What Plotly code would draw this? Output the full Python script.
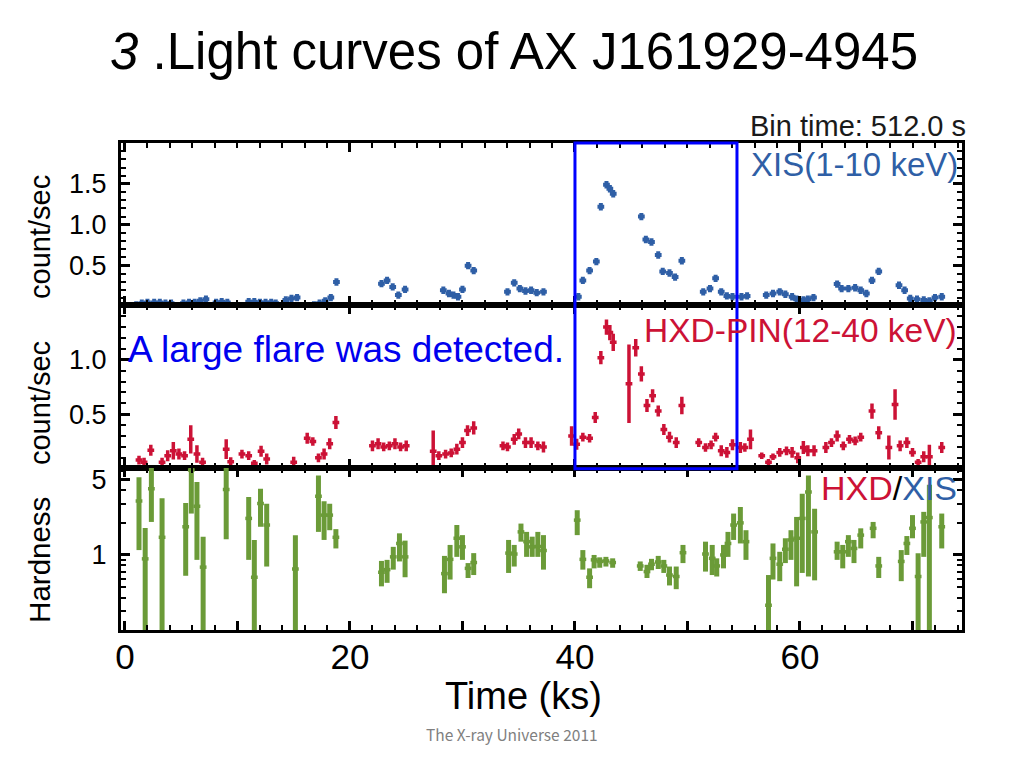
import plotly.graph_objects as go
from plotly.subplots import make_subplots

# ---------------- data ----------------
xis_t = [1.0, 1.5, 2.0, 2.6, 3.1, 3.6, 4.1,
         5.2, 5.7, 6.2, 6.7, 7.2,
         8.1, 8.6, 9.1,
         11.0, 11.5, 12.0, 12.5, 13.0, 13.4,
         14.3, 14.8, 15.3,
         16.8, 17.3, 17.8, 18.3, 18.8,
         22.8, 23.3, 23.8, 24.3, 24.9,
         28.3, 28.8, 29.2, 29.6, 30.0, 30.5, 31.0,
         34.0, 34.6, 35.1, 35.6, 36.1, 36.6, 37.2,
         40.3, 40.7, 41.3, 41.9, 42.3, 42.8, 43.1, 43.4,
         45.9, 46.3, 46.8, 47.4, 47.8, 48.4, 48.9, 49.5,
         51.4, 52.0, 52.5, 53.0, 53.5, 54.0, 54.8, 55.3,
         57.0, 57.6, 58.2, 58.7, 59.3, 59.7, 60.3, 60.7, 61.2,
         63.3, 63.7, 64.3, 64.9, 65.4, 65.9, 66.4, 67.0,
         68.8, 69.3, 69.8, 70.4, 71.0, 71.5, 72.0, 72.6]
xis_r = [0.02, 0.04, 0.05, 0.05, 0.05, 0.04, 0.04,
         0.04, 0.05, 0.05, 0.07, 0.09,
         0.05, 0.06, 0.05,
         0.06, 0.06, 0.05, 0.05, 0.05, 0.04,
         0.08, 0.10, 0.11,
         0.02, 0.04, 0.07, 0.11, 0.30,
         0.28, 0.32, 0.24, 0.14, 0.21,
         0.20, 0.16, 0.14, 0.12, 0.21, 0.50, 0.44,
         0.18, 0.29, 0.22, 0.19, 0.20, 0.17, 0.18,
         0.12, 0.32, 0.44, 0.55, 1.22, 1.49, 1.44, 1.38,
         1.10, 0.82, 0.79, 0.63, 0.43, 0.41, 0.36, 0.56,
         0.18, 0.22, 0.345, 0.18, 0.13, 0.12, 0.12, 0.13,
         0.14, 0.16, 0.18, 0.15, 0.12, 0.09, 0.08, 0.09, 0.11,
         0.275, 0.22, 0.22, 0.23, 0.20, 0.16, 0.32, 0.43,
         0.26, 0.20, 0.10, 0.09, 0.08, 0.07, 0.11, 0.12]
xis_e = 0.045

hxd_t = [1.25, 1.7, 2.3, 3.3, 3.8, 4.3, 4.8, 5.3, 5.85, 6.4, 6.9,
         9.0, 9.4, 10.4, 11.0, 11.5, 12.1, 12.6,
         15.0, 16.2, 16.7, 17.2, 17.7, 18.2, 18.75,
         22.0, 22.5, 23.0, 23.5, 24.0, 24.5, 25.0,
         27.4, 27.9, 28.5, 29.0, 29.5, 30.0, 30.45, 31.0,
         33.6, 34.0, 34.6, 35.0, 35.6, 36.1, 36.7, 37.2,
         39.7, 40.15, 40.7, 41.3, 41.8, 42.3, 42.8, 43.1, 43.4,
         44.8, 45.4, 45.9, 46.4, 46.9, 47.4, 47.9, 48.4, 49.0, 49.5,
         51.0, 51.6, 52.1, 52.5, 53.0, 53.5, 54.0, 54.7, 55.1, 55.6,
         56.6, 57.2, 57.6, 58.2, 58.8, 59.3, 59.8, 60.3, 60.7, 61.25,
         62.3, 62.8, 63.3, 63.85, 64.4, 64.9, 65.4, 66.4, 67.0,
         67.9, 68.45, 68.9, 69.5, 70.0, 70.5, 71.0, 71.5, 72.6]
hxd_r = [0.08, 0.06, 0.17, 0.06, 0.12, 0.165, 0.135, 0.12, 0.27, 0.135, 0.06,
         0.18, 0.065, 0.135, 0.12, 0.05, 0.16, 0.09,
         0.06, 0.28, 0.25, 0.10, 0.135, 0.23, 0.425,
         0.21, 0.23, 0.20, 0.21, 0.23, 0.20, 0.21,
         0.16, 0.12, 0.135, 0.145, 0.18, 0.24, 0.35, 0.375,
         0.21, 0.20, 0.27, 0.32, 0.24, 0.24, 0.21, 0.20,
         0.30, 0.225, 0.29, 0.28, 0.47, 1.02, 1.30, 1.25, 1.16,
         0.78, 1.11, 0.87, 0.58, 0.67, 0.53, 0.36, 0.29, 0.24, 0.58,
         0.24, 0.195, 0.22, 0.29, 0.165, 0.15, 0.22, 0.195, 0.195, 0.27,
         0.12, 0.06, 0.11, 0.15, 0.165, 0.15, 0.10, 0.195, 0.165, 0.165,
         0.195, 0.24, 0.30, 0.21, 0.27, 0.255, 0.29, 0.53, 0.33,
         0.195, 0.59, 0.21, 0.24, 0.15, 0.06, 0.11, 0.11, 0.195]
hxd_e = [0.04, 0.04, 0.05, 0.04, 0.05, 0.08, 0.05, 0.04, 0.13, 0.08, 0.04,
         0.09, 0.04, 0.04, 0.04, 0.03, 0.05, 0.05,
         0.05, 0.05, 0.04, 0.04, 0.05, 0.05, 0.06,
         0.05, 0.05, 0.04, 0.04, 0.05, 0.04, 0.05,
         0.19, 0.04, 0.04, 0.04, 0.05, 0.05, 0.05, 0.06,
         0.04, 0.04, 0.05, 0.05, 0.05, 0.05, 0.04, 0.05,
         0.09, 0.05, 0.04, 0.04, 0.05, 0.06, 0.07, 0.07, 0.08,
         0.36, 0.08, 0.07, 0.06, 0.06, 0.05, 0.05, 0.05, 0.05, 0.08,
         0.04, 0.04, 0.04, 0.04, 0.05, 0.05, 0.05, 0.05, 0.04, 0.09,
         0.03, 0.03, 0.03, 0.04, 0.04, 0.05, 0.05, 0.06, 0.05, 0.05,
         0.05, 0.04, 0.05, 0.04, 0.04, 0.04, 0.04, 0.07, 0.06,
         0.11, 0.14, 0.05, 0.05, 0.04, 0.03, 0.05, 0.11, 0.05]

hr_t = [1.25, 1.8, 2.35, 3.3, 5.4, 5.9, 6.4, 6.95, 9.0, 11.0, 11.5, 12.05, 12.6,
        15.15, 17.2, 17.7, 18.2, 18.75,
        22.8, 23.3, 23.85, 24.4, 24.9,
        28.4, 28.9, 29.5, 30.0, 30.5, 31.0,
        34.1, 34.6, 35.2, 35.7, 36.2, 36.7, 37.2,
        40.2, 40.7, 41.3, 41.7, 42.2, 42.75, 43.35,
        45.8, 46.4, 46.8, 47.4, 47.9, 48.4, 49.0, 49.6,
        51.6, 52.2, 52.6, 53.2, 53.6, 54.1, 54.7, 55.2,
        57.2, 57.6, 58.2, 58.7, 59.2, 59.7, 60.2, 60.75, 61.3,
        63.3, 63.8, 64.3, 64.8, 65.4, 66.5, 67.0,
        69.0, 69.5, 70.0, 70.5, 71.0, 71.5, 72.6]
hr_v = [3.18, 0.92, 4.14, 1.46, 1.83, 6.2, 2.84, 0.77, 4.06, 2.19, 0.62, 3.01, 1.90,
        0.74, 3.52, 2.35, 2.35, 1.46,
        0.69, 0.73, 0.96, 1.28, 0.96,
        0.67, 0.91, 1.43, 1.19, 0.75, 0.85,
        1.04, 1.02, 1.64, 1.33, 1.19, 1.20, 1.10,
        2.11, 0.91, 0.62, 0.90, 0.87, 0.88, 0.85,
        0.79, 0.70, 0.82, 0.86, 0.79, 0.65, 0.63, 1.05,
        1.02, 0.93, 0.79, 1.00, 1.28, 1.90, 1.99, 1.33,
        0.34, 0.93, 0.82, 1.13, 1.38, 1.43, 2.19, 3.85, 1.64,
        1.07, 1.07, 1.33, 1.15, 1.53, 1.77, 0.79,
        0.87, 1.28, 1.77, 0.63, 2.03, 2.23, 1.83]
hr_hi = [5.3, 1.78, 6.6, 3.37, 3.05, 7.5, 4.77, 1.48, 7.5, 3.46, 1.38, 4.14, 3.0,
         1.53, 5.5, 3.16, 3.0, 1.74,
         0.88, 0.90, 1.19, 1.59, 1.36,
         0.98, 1.24, 1.90, 1.53, 0.84, 1.04,
         1.38, 1.24, 1.96, 1.64, 1.48, 1.64, 1.53,
         2.61, 1.11, 0.75, 1.00, 0.95, 0.96, 0.93,
         0.87, 0.81, 0.92, 0.98, 0.90, 0.78, 0.78, 1.24,
         1.33, 1.24, 0.93, 1.24, 1.64, 2.43, 2.80, 1.70,
         0.65, 1.28, 1.07, 1.43, 1.70, 2.26, 3.72, 5.5, 2.70,
         1.33, 1.24, 1.53, 1.38, 1.77, 2.03, 0.96,
         1.11, 1.50, 2.35, 1.04, 2.52, 4.5, 2.43]
hr_lo = [1.11, 0.05, 2.03, 0.05, 0.64, 2.43, 0.90, 0.05, 1.40, 0.90, 0.05, 1.83, 0.78,
         0.05, 1.64, 1.38, 1.70, 1.15,
         0.51, 0.55, 0.73, 0.87, 0.62,
         0.44, 0.59, 0.96, 0.90, 0.61, 0.65,
         0.68, 0.78, 1.33, 0.96, 0.96, 0.96, 0.73,
         1.53, 0.73, 0.49, 0.75, 0.76, 0.78, 0.76,
         0.71, 0.61, 0.72, 0.74, 0.68, 0.52, 0.48, 0.84,
         0.70, 0.65, 0.63, 0.75, 0.96, 1.38, 1.28, 0.90,
         0.05, 0.59, 0.57, 0.84, 0.90, 0.51, 0.68, 0.63, 0.58,
         0.90, 0.75, 0.96, 0.84, 1.15, 1.43, 0.61,
         0.57, 1.00, 1.43, 0.05, 0.96, 0.05, 1.15]

bin_half = 0.3
flare_window = [40.0, 54.4]

XIS_C = "#2f5fa6"
HXD_C = "#cc1236"
HR_C = "#6b9b38"

# ---------------- figure ----------------
fig = make_subplots(rows=3, cols=1, shared_xaxes=True, vertical_spacing=0)

fig.add_trace(go.Scatter(
    x=xis_t, y=xis_r, mode="markers",
    marker=dict(color=XIS_C, size=2),
    error_x=dict(type="constant", value=bin_half, color=XIS_C, thickness=4, width=0),
    error_y=dict(type="constant", value=xis_e, color=XIS_C, thickness=4, width=0),
    showlegend=False), row=1, col=1)

fig.add_trace(go.Scatter(
    x=hxd_t, y=hxd_r, mode="markers",
    marker=dict(color=HXD_C, size=2),
    error_x=dict(type="constant", value=bin_half, color=HXD_C, thickness=3.5, width=0),
    error_y=dict(type="data", array=hxd_e, color=HXD_C, thickness=3.5, width=0),
    showlegend=False), row=2, col=1)

hr_ep = [h - v for h, v in zip(hr_hi, hr_v)]
hr_em = [v - l for v, l in zip(hr_v, hr_lo)]
fig.add_trace(go.Scatter(
    x=hr_t, y=hr_v, mode="markers",
    marker=dict(color=HR_C, size=2),
    error_x=dict(type="constant", value=bin_half, color=HR_C, thickness=3.5, width=0),
    error_y=dict(type="data", array=hr_ep, arrayminus=hr_em, symmetric=False,
                 color=HR_C, thickness=5, width=0),
    showlegend=False), row=3, col=1)

FONT = "Liberation Sans, Arial, sans-serif"
NARROW = "Liberation Sans Narrow, Liberation Sans, Arial, sans-serif"

xcommon = dict(range=[-0.35, 74.4], showline=True, linewidth=3, linecolor="black",
               mirror="allticks", ticks="inside", ticklen=9, tickwidth=2.5,
               tickcolor="black", tickvals=[0, 10, 20, 30, 40, 50, 60, 70],
               ticktext=["0", "", "20", "", "40", "", "60", ""],
               minor=dict(ticks="inside", ticklen=5, tickwidth=2, dtick=2, tick0=0,
                          tickcolor="black"),
               showgrid=False, zeroline=False)
for i in (1, 2, 3):
    fig.update_xaxes(**xcommon, row=i, col=1)
fig.update_xaxes(showticklabels=False, row=1, col=1)
fig.update_xaxes(showticklabels=False, row=2, col=1)
fig.update_xaxes(showticklabels=True, tickfont=dict(family=NARROW, size=35, color="black"),
                 ticklabelstandoff=-6, row=3, col=1)

ycommon = dict(showline=True, linewidth=3, linecolor="black", mirror="allticks",
               ticks="inside", ticklen=9, tickwidth=2.5, tickcolor="black",
               showgrid=False, zeroline=False, ticklabelstandoff=6,
               tickfont=dict(family=FONT, size=27, color="black"))
fig.update_yaxes(**ycommon, range=[0.015, 2.0], tickvals=[0.5, 1.0, 1.5],
                 ticktext=["0.5", "1.0", "1.5"],
                 minor=dict(ticks="inside", ticklen=5, tickwidth=2, dtick=0.1, tick0=0,
                            tickcolor="black"), row=1, col=1)
fig.update_yaxes(**ycommon, range=[0.01, 1.5], tickvals=[0.5, 1.0],
                 ticktext=["0.5", "1.0"],
                 minor=dict(ticks="inside", ticklen=5, tickwidth=2, dtick=0.1, tick0=0,
                            tickcolor="black"), row=2, col=1)
fig.update_yaxes(**ycommon, type="log", range=[-0.699, 0.813], tickvals=[1, 5],
                 ticktext=["1", "5"],
                 minor=dict(ticks="inside", ticklen=5, tickwidth=2,
                            tickvals=[0.2, 0.3, 0.4, 0.5, 0.6, 0.7, 0.8, 0.9, 2, 3, 4, 6],
                            tickcolor="black"), row=3, col=1)

# flare window box
fig.add_shape(type="rect", xref="x", yref="paper", x0=flare_window[0], x1=flare_window[1],
              y0=0.331, y1=1.0, line=dict(color="#0000ff", width=3), layer="above")

ann = []
ann.append(dict(text="<i>3</i> .Light curves of AX J161929-4945", xref="paper", yref="paper",
                x=-0.0155, y=1.187, xanchor="left", yanchor="middle", showarrow=False,
                font=dict(family=FONT, size=51, color="black")))
ann.append(dict(text="Bin time: 512.0 s", xref="paper", yref="paper", x=1.007, y=1.034,
                xanchor="right", yanchor="middle", showarrow=False,
                font=dict(family=FONT, size=29, color="#1a1a1a")))
ann.append(dict(text="XIS(1-10 keV)", xref="paper", yref="paper", x=0.998, y=0.955,
                xanchor="right", yanchor="middle", showarrow=False,
                font=dict(family=FONT, size=33, color=XIS_C)))
ann.append(dict(text="HXD-PIN(12-40 keV)", xref="paper", yref="paper", x=0.997, y=0.616,
                xanchor="right", yanchor="middle", showarrow=False,
                font=dict(family=FONT, size=33.5, color=HXD_C)))
ann.append(dict(text=f"<span style='color:{HXD_C}'>HXD</span>/<span style='color:{XIS_C}'>XIS</span>",
                xref="paper", yref="paper", x=0.996, y=0.292,
                xanchor="right", yanchor="middle", showarrow=False,
                font=dict(family=FONT, size=34, color="black")))
ann.append(dict(text="A large flare was detected.", xref="paper", yref="paper", x=0.006, y=0.577,
                xanchor="left", yanchor="middle", showarrow=False,
                font=dict(family=FONT, size=37, color="#0000ee")))
for txt, yy, sz in (("count/sec", 0.807, 29), ("count/sec", 0.466, 29), ("Hardness", 0.144, 29.5)):
    ann.append(dict(text=txt, xref="paper", yref="paper", x=-0.0963, y=yy, textangle=-90,
                    xanchor="center", yanchor="middle", showarrow=False,
                    font=dict(family=FONT, size=sz, color="black")))
ann.append(dict(text="Time (ks)", xref="paper", yref="paper", x=0.479, y=-0.135,
                xanchor="center", yanchor="middle", showarrow=False,
                font=dict(family=FONT, size=38, color="black")))
ann.append(dict(text="The X-ray Universe 2011", xref="paper", yref="paper", x=0.465, y=-0.2136,
                xanchor="center", yanchor="middle", showarrow=False,
                font=dict(family="Noto Sans CJK JP, DejaVu Sans, sans-serif", size=15.5,
                          color="#808080")))

# the page body adds an 8 px offset, so the canvas is 8 px smaller and shifted
fig.update_layout(width=1016, height=760, paper_bgcolor="white", plot_bgcolor="white",
                  margin=dict(l=113, r=62, t=135, b=138), annotations=ann,
                  font=dict(family=FONT, color="black"))

fig.write_html("out.html")
